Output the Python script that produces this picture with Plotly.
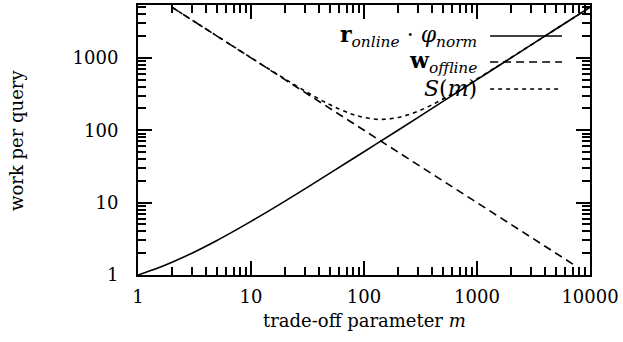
import plotly.graph_objects as go

# trade-off parameter m
m_online = [1, 1.5, 2, 3, 5, 7, 10, 20, 50, 100, 200, 500, 1000, 2000, 5000, 10000]
r_online = [1, 1.25, 1.5, 2, 3, 4, 5.5, 10.5, 25.5, 50.5, 100, 250, 500, 1000, 2500, 5000]

m_offline = [2, 5, 10, 20, 50, 100, 200, 500, 1000, 2000, 5000, 7500]
w_offline = [5000, 2000, 1000, 500, 200, 100, 50, 20, 10, 5, 2, 1.33]

m_sum = [2, 5, 10, 20, 40, 60, 80, 100, 140, 200, 300, 500, 1000, 2000, 5000, 10000]
s_sum = [5000, 2003, 1005, 510, 270, 197, 165, 150, 141, 150, 183, 270, 510, 1005, 2502, 5000]

x_ticks = [1, 10, 100, 1000, 10000]
y_ticks = [1, 10, 100, 1000]
legend_labels = [
    "<b>r</b><sub><i>online</i></sub> · <i>φ</i><sub><i>norm</i></sub>",
    "<b>w</b><sub><i>offline</i></sub>",
    "<i>S</i>(<i>m</i>)",
]

FONT = "DejaVu Serif"
dashes = ["solid", "8px,5px", "4px,4px"]

x_minor = [k * 10 ** e for e in range(0, 4) for k in range(2, 10)]
y_minor = [k * 10 ** e for e in range(0, 4) for k in range(2, 10)]

fig = go.Figure()
fig.add_trace(go.Scatter(x=m_online, y=r_online, mode="lines", line=dict(color="black", width=1.6, dash=dashes[0], shape="spline"), showlegend=False))
fig.add_trace(go.Scatter(x=m_offline, y=w_offline, mode="lines", line=dict(color="black", width=1.6, dash=dashes[1]), showlegend=False))
fig.add_trace(go.Scatter(x=m_sum, y=s_sum, mode="lines", line=dict(color="black", width=1.6, dash=dashes[2], shape="spline"), showlegend=False))

axis_common = dict(
    type="log", showgrid=False, zeroline=False, showline=True, linecolor="black", linewidth=2,
    mirror="allticks", ticks="inside", ticklen=14, tickwidth=2, tickcolor="black",
    tickfont=dict(family=FONT, size=18, color="black"), automargin=False,
    ticklabeloverflow="allow",
)

fig.update_xaxes(range=[0, 4], tickmode="array", tickvals=x_ticks, ticktext=[str(v) for v in x_ticks],
                 ticklabelstandoff=4,
                 minor=dict(tickmode="array", tickvals=x_minor, ticks="inside", ticklen=8, tickwidth=1.5, tickcolor="black", showgrid=False),
                 **axis_common)
fig.update_yaxes(range=[0, 3.73], tickmode="array", tickvals=y_ticks, ticktext=[str(v) for v in y_ticks],
                 ticklabelstandoff=14,
                 minor=dict(tickmode="array", tickvals=y_minor, ticks="inside", ticklen=8, tickwidth=1.5, tickcolor="black", showgrid=False),
                 **axis_common)

# Legend drawn manually (text right-aligned, sample line on the right)
rows_y = [0.885, 0.789, 0.689]
for lab, dsh, yy in zip(legend_labels, dashes, rows_y):
    fig.add_annotation(x=0.755, y=yy, xref="paper", yref="paper", text=lab, showarrow=False,
                       xanchor="right", yanchor="middle", font=dict(family=FONT, size=22, color="black"))
    fig.add_shape(type="line", xref="paper", yref="paper", x0=0.779, x1=0.938, y0=yy, y1=yy,
                  line=dict(color="black", width=1.6, dash=dsh))

fig.add_annotation(x=-0.27, y=0.5, xref="paper", yref="paper", text="work per query",
                   showarrow=False, textangle=-90, font=dict(family=FONT, size=18, color="black"),
                   xanchor="center", yanchor="middle")
fig.add_annotation(x=0.5, y=-0.167, xref="paper", yref="paper", text="trade-off parameter <i>m</i>",
                   showarrow=False, font=dict(family=FONT, size=18, color="black"),
                   xanchor="center", yanchor="middle")

fig.update_layout(
    width=623, height=342, margin=dict(l=138, r=33, t=5, b=67, autoexpand=False),
    paper_bgcolor="white", plot_bgcolor="white", showlegend=False,
)

fig.write_html("out.html", config={"displayModeBar": False},
               post_script="document.body.style.margin='0';document.body.style.padding='0';")
